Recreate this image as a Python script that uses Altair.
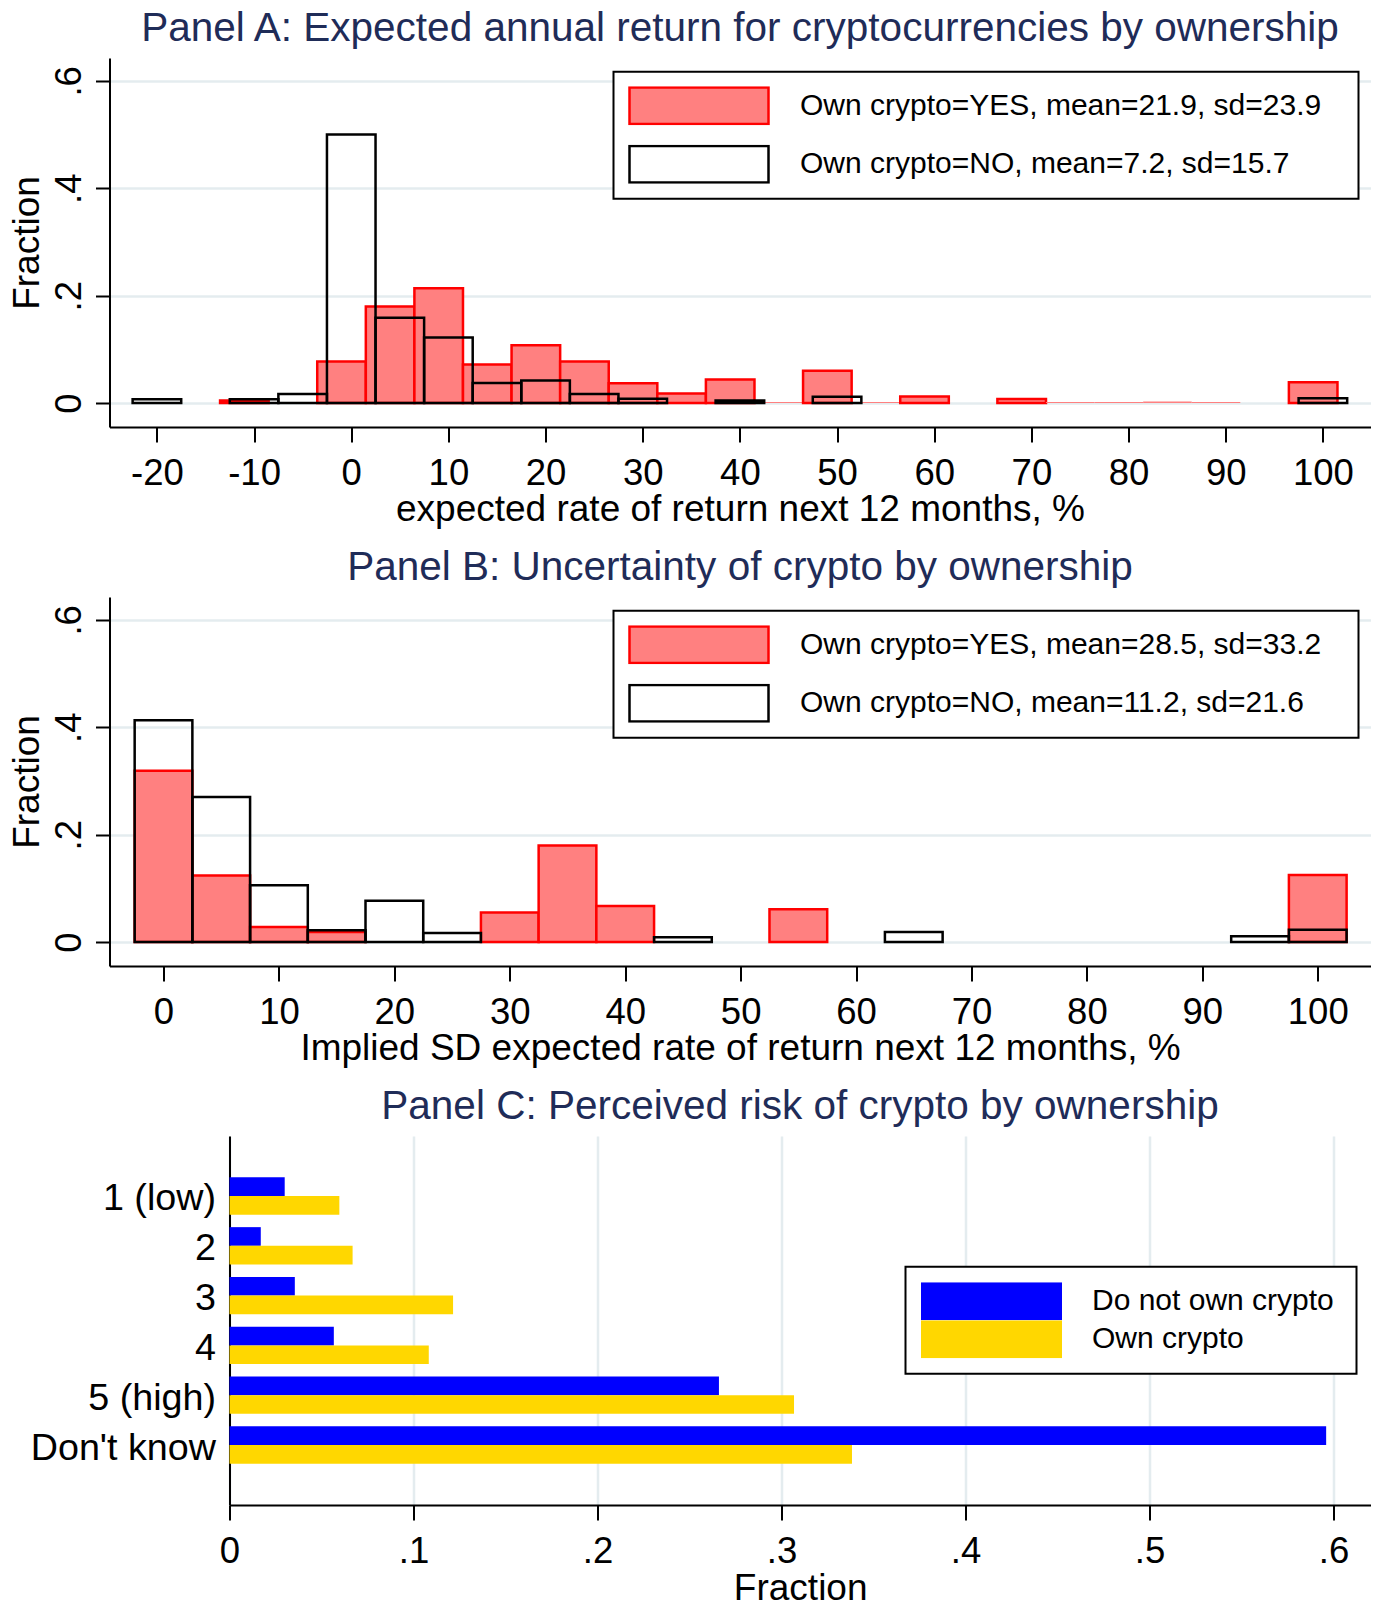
import altair as alt
import pandas as pd

# ---------------- data ----------------
# Panel A: expected annual return (histogram, fraction per 5-pt bin, bin centres)
A_YES_LABEL = "Own crypto=YES, mean=21.9, sd=23.9"
A_NO_LABEL = "Own crypto=NO, mean=7.2, sd=15.7"
a_yes_bin = [-11, -1, 4, 9, 14, 19, 24, 29, 34, 39, 44, 49, 54, 59, 69, 74, 79, 84, 89, 99]
a_yes_frac = [0.005, 0.0775, 0.18, 0.214, 0.072, 0.1075, 0.0775, 0.037, 0.018, 0.044,
              0.002, 0.06, 0.002, 0.0125, 0.0075, 0.002, 0.002, 0.003, 0.002, 0.039]
a_no_bin = [-20, -10, -5, 0, 5, 10, 15, 20, 25, 30, 40, 50, 100]
a_no_frac = [0.007, 0.007, 0.017, 0.5, 0.159, 0.122, 0.0375, 0.042, 0.017, 0.008, 0.005, 0.012, 0.009]
a_ticks = [-20, -10, 0, 10, 20, 30, 40, 50, 60, 70, 80, 90, 100]

# Panel B: implied SD
B_YES_LABEL = "Own crypto=YES, mean=28.5, sd=33.2"
B_NO_LABEL = "Own crypto=NO, mean=11.2, sd=21.6"
b_yes_bin = [0, 5, 10, 15, 30, 35, 40, 55, 100]
b_yes_frac = [0.319, 0.124, 0.028, 0.019, 0.055, 0.18, 0.067, 0.061, 0.125]
b_no_bin = [0, 5, 10, 15, 20, 25, 45, 65, 95, 100]
b_no_frac = [0.413, 0.27, 0.106, 0.022, 0.077, 0.017, 0.009, 0.019, 0.011, 0.023]
b_ticks = [0, 10, 20, 30, 40, 50, 60, 70, 80, 90, 100]

y_ticks = [0, 0.2, 0.4, 0.6]

# Panel C: perceived risk
c_categories = ["1 (low)", "2", "3", "4", "5 (high)", "Don't know"]
c_groups = ["Do not own crypto", "Own crypto"]
c_not_own = [0.030, 0.017, 0.0355, 0.0567, 0.266, 0.596]
c_own = [0.0597, 0.0669, 0.1215, 0.1083, 0.3068, 0.3383]
c_ticks = [0, 0.1, 0.2, 0.3, 0.4, 0.5, 0.6]

# ---------------- style ----------------
FONT = "Liberation Sans"
TITLE_COLOR = "#1f2c58"
GRID = "#e4ecef"
RED_FILL = "#ff8080"
RED = "#ff0000"
BLUE = "#0000ff"
YELLOW = "#ffd700"
W = 1261
H = 369
TICK_FS = 36.5
TITLE_FS = 37
FRAC_LABEL = "datum.value == 0 ? '0' : '.' + round(datum.value * 10)"
PAD_CHAR = "\u2800"  # blank (non-trimmed) filler to widen legend boxes


def hist_panel(title, yes_label, no_label, yes_bin, yes_frac, no_bin, no_frac,
               xdomain, xticks, xtitle):
    df = pd.DataFrame({
        "bin": list(yes_bin) + list(no_bin),
        "frac": list(yes_frac) + list(no_frac),
        "own": [yes_label] * len(yes_bin) + [no_label] * len(no_bin),
    })
    legend = alt.Legend(
        title=None, orient="none", legendX=504, legendY=13.7, direction="vertical",
        symbolType="M-1,-0.2633H1V0.2633H-1Z", symbolSize=139 ** 2,
        symbolStrokeWidth=2.5, labelFontSize=30, labelFont=FONT, labelOffset=30,
        labelLimit=2000, rowPadding=18.5, padding=14.5, clipHeight=39.1,
        strokeColor="black", fillColor="white", labelColor="black",
        labelExpr="datum.label + '" + PAD_CHAR + "'",
    )
    ch = alt.Chart(df, title=alt.TitleParams(title, frame="group")).transform_calculate(
        lo="datum.bin - 2.5", hi="datum.bin + 2.5"
    ).mark_rect().encode(
        x=alt.X("lo:Q", title=xtitle,
                scale=alt.Scale(domain=xdomain, nice=False, zero=False),
                axis=alt.Axis(values=xticks, labelExpr="datum.value + ''",
                              labelFontSize=TICK_FS, labelBaseline="alphabetic",
                              labelPadding=42, tickSize=15, grid=False,
                              labelFlush=False, labelOverlap=False,
                              titleX=W / 2, titleY=93.3, titleBaseline="alphabetic",
                              titleAlign="center")),
        x2="hi:Q",
        y=alt.Y("frac:Q", title="Fraction",
                scale=alt.Scale(domain=[-0.0445, 0.6425], nice=False, zero=False),
                axis=alt.Axis(values=y_ticks, labelExpr=FRAC_LABEL, labelAngle=270,
                              labelFontSize=TICK_FS,
                              labelAlign="center", labelBaseline="alphabetic",
                              labelPadding=15, tickSize=14, grid=True,
                              gridColor=GRID, gridWidth=2.5, labelOverlap=False,
                              titleAngle=270, titleX=-70.8, titleY=H / 2,
                              titleBaseline="alphabetic", titleAlign="center")),
        y2=alt.datum(0),
        fill=alt.Fill("own:N", scale=alt.Scale(domain=[yes_label, no_label],
                                               range=[RED_FILL, "transparent"]),
                      legend=legend),
        stroke=alt.Stroke("own:N", scale=alt.Scale(domain=[yes_label, no_label],
                                                   range=[RED, "black"]),
                          legend=legend),
        strokeWidth=alt.condition("datum.frac < 0.004", alt.value(0), alt.value(2.5)),
    ).properties(width=W, height=H)
    return ch


panel_a = hist_panel("Panel A: Expected annual return for cryptocurrencies by ownership",
                     A_YES_LABEL, A_NO_LABEL, a_yes_bin, a_yes_frac, a_no_bin, a_no_frac,
                     [-24.88, 104.9], a_ticks,
                     "expected rate of return next 12 months, %")
panel_b = hist_panel("Panel B: Uncertainty of crypto by ownership",
                     B_YES_LABEL, B_NO_LABEL, b_yes_bin, b_yes_frac, b_no_bin, b_no_frac,
                     [-4.68, 104.57], b_ticks,
                     "Implied SD expected rate of return next 12 months, %")

dfc = pd.DataFrame({
    "cat": c_categories * 2,
    "own": [c_groups[0]] * len(c_categories) + [c_groups[1]] * len(c_categories),
    "frac": c_not_own + c_own,
})
legend_c = alt.Legend(
    title=PAD_CHAR, titleOrient="right", titleFontSize=10, titlePadding=0,
    orient="none", legendX=796, legendY=130.7, direction="vertical",
    symbolType="M-1,-0.2695H1V0.2695H-1Z", symbolSize=141 ** 2, symbolStrokeWidth=0,
    labelFontSize=30, labelFont=FONT, labelOffset=30, labelLimit=2000, rowPadding=0,
    padding=15.5, clipHeight=38, strokeColor="black", fillColor="white",
    labelColor="black",
)
panel_c = alt.Chart(dfc, title=alt.TitleParams("Panel C: Perceived risk of crypto by ownership",
                                               frame="group", dx=60)).mark_bar().encode(
    x=alt.X("frac:Q", title="Fraction",
            scale=alt.Scale(domain=[0, 0.6201], range=[120, W], nice=False, zero=False),
            axis=alt.Axis(values=c_ticks, labelExpr=FRAC_LABEL, labelFontSize=TICK_FS,
                          labelBaseline="alphabetic", labelPadding=42, tickSize=15,
                          grid=True, gridColor=GRID, gridWidth=2.5, labelFlush=False,
                          titleX=690.7, titleY=94, titleBaseline="alphabetic",
                          titleAlign="center")),
    y=alt.Y("cat:N", sort=c_categories, title=None,
            scale=alt.Scale(paddingInner=0.251, paddingOuter=0.83),
            axis=alt.Axis(offset=-120, ticks=False, labelPadding=14, labelFontSize=37.7,
                          labelOffset=3.5, labelLimit=500, grid=False)),
    yOffset=alt.YOffset("own:N", sort=c_groups,
                        scale=alt.Scale(paddingInner=0, paddingOuter=0)),
    color=alt.Color("own:N", scale=alt.Scale(domain=c_groups, range=[BLUE, YELLOW]),
                    legend=legend_c),
).properties(width=W, height=H)

chart = alt.vconcat(panel_a, panel_b, panel_c, spacing=170, bounds="flush",
                    padding={"left": 0.5, "top": 1, "right": 0, "bottom": 5}).resolve_scale(
    fill="independent", stroke="independent", color="independent"
).configure(
    font=FONT
).configure_view(stroke=None).configure_axis(
    labelColor="black", titleColor="black", tickColor="black", tickWidth=2,
    domainColor="black", domainWidth=2, titleFontSize=TITLE_FS, titleFontWeight="normal",
    labelFont=FONT, titleFont=FONT,
).configure_title(
    fontSize=40.5, color=TITLE_COLOR, fontWeight="normal", anchor="middle",
    baseline="alphabetic", offset=8.5, font=FONT,
)

try:
    chart2 = chart.configure_legend(strokeWidth=2)
    chart2.to_dict()
    chart = chart2
except Exception:
    pass

chart.save("out.html", embed_options={"renderer": "svg", "actions": False})
